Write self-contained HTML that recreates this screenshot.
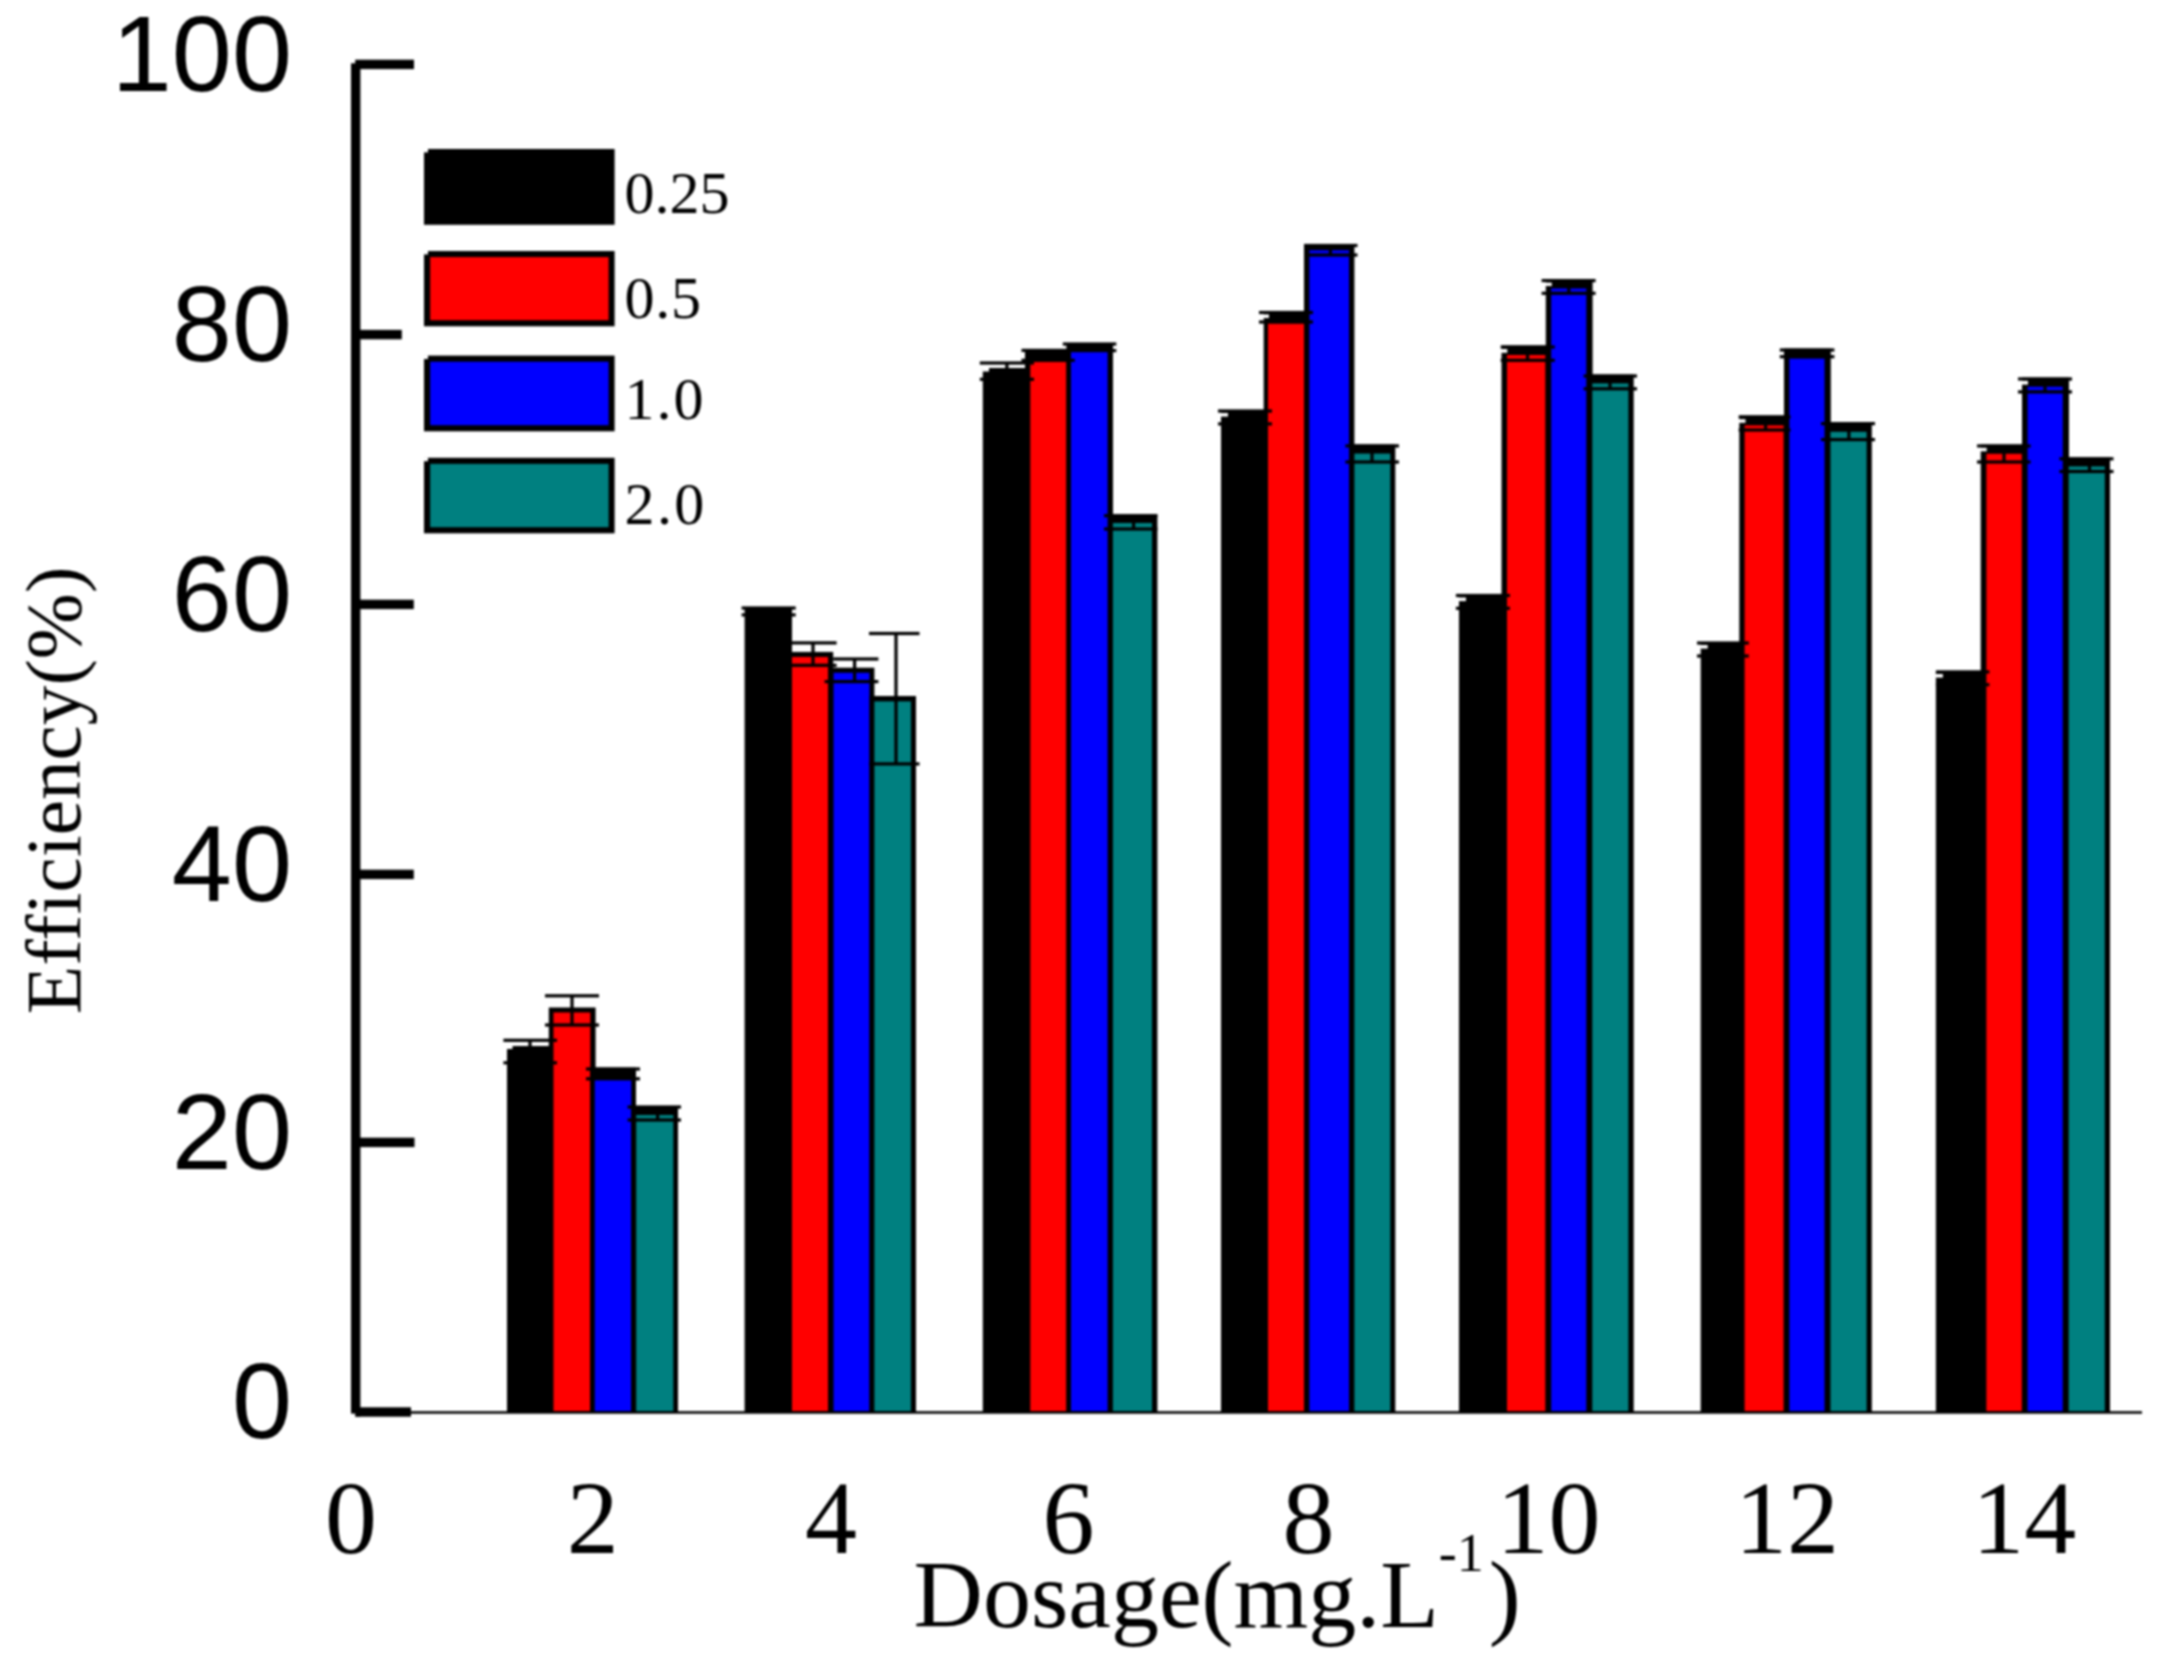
<!DOCTYPE html>
<html lang="en">
<head>
<meta charset="utf-8">
<title>Efficiency vs Dosage</title>
<style>
html,body{margin:0;padding:0;background:#fff;}
body{width:2164px;height:1664px;overflow:hidden;}
svg{display:block;filter:blur(0.85px);}
</style>
</head>
<body>
<svg width="2164" height="1664" viewBox="0 0 2164 1664">
<rect x="0" y="0" width="2164" height="1664" fill="#fff"/>
<g id="bars">
<rect x="507.0" y="1046.0" width="46.5" height="366.2" fill="#000"/>
<rect x="548.8" y="1007.5" width="46.8" height="404.7" fill="#000"/>
<rect x="553.5" y="1012.5" width="36.8" height="398.7" fill="#ff0000"/>
<rect x="590.0" y="1067.5" width="46.0" height="344.7" fill="#000"/>
<rect x="594.8" y="1079.6" width="36.4" height="331.6" fill="#0000ff"/>
<rect x="631.0" y="1106.0" width="47.0" height="306.2" fill="#000"/>
<rect x="636.2" y="1115.0" width="37.1" height="296.2" fill="#008080"/>
<rect x="744.6" y="607.0" width="47.4" height="805.2" fill="#000"/>
<rect x="787.0" y="651.9" width="46.2" height="760.3" fill="#000"/>
<rect x="792.0" y="657.0" width="36.0" height="754.2" fill="#ff0000"/>
<rect x="828.8" y="667.7" width="45.6" height="744.5" fill="#000"/>
<rect x="833.6" y="672.8" width="35.8" height="738.4" fill="#0000ff"/>
<rect x="869.6" y="696.0" width="46.4" height="716.2" fill="#000"/>
<rect x="874.4" y="701.4" width="36.5" height="709.8" fill="#008080"/>
<rect x="982.8" y="368.0" width="46.9" height="1044.2" fill="#000"/>
<rect x="1025.0" y="350.4" width="46.0" height="1061.8" fill="#000"/>
<rect x="1030.3" y="361.5" width="36.1" height="1049.7" fill="#ff0000"/>
<rect x="1066.4" y="343.0" width="46.6" height="1069.2" fill="#000"/>
<rect x="1071.0" y="351.9" width="36.6" height="1059.3" fill="#0000ff"/>
<rect x="1108.0" y="514.5" width="49.4" height="897.7" fill="#000"/>
<rect x="1112.9" y="523.0" width="39.1" height="888.2" fill="#008080"/>
<rect x="1221.0" y="411.0" width="47.0" height="1001.2" fill="#000"/>
<rect x="1263.7" y="311.0" width="45.3" height="1101.2" fill="#000"/>
<rect x="1268.0" y="323.4" width="36.0" height="1087.8" fill="#ff0000"/>
<rect x="1304.0" y="244.0" width="50.4" height="1168.2" fill="#000"/>
<rect x="1309.4" y="250.3" width="39.6" height="1160.9" fill="#0000ff"/>
<rect x="1349.0" y="444.4" width="46.3" height="967.8" fill="#000"/>
<rect x="1354.4" y="453.6" width="35.9" height="957.6" fill="#008080"/>
<rect x="1459.0" y="595.5" width="47.4" height="816.7" fill="#000"/>
<rect x="1501.5" y="345.5" width="49.1" height="1066.7" fill="#000"/>
<rect x="1507.0" y="355.0" width="38.4" height="1056.2" fill="#ff0000"/>
<rect x="1545.8" y="279.0" width="46.8" height="1133.2" fill="#000"/>
<rect x="1551.2" y="288.5" width="35.1" height="1122.7" fill="#0000ff"/>
<rect x="1587.0" y="374.5" width="46.7" height="1037.7" fill="#000"/>
<rect x="1592.3" y="383.4" width="36.1" height="1027.8" fill="#008080"/>
<rect x="1700.7" y="643.0" width="43.6" height="769.2" fill="#000"/>
<rect x="1739.3" y="415.5" width="49.5" height="996.7" fill="#000"/>
<rect x="1744.6" y="425.4" width="39.0" height="985.8" fill="#ff0000"/>
<rect x="1784.0" y="348.5" width="46.8" height="1063.7" fill="#000"/>
<rect x="1789.4" y="358.5" width="35.1" height="1052.7" fill="#0000ff"/>
<rect x="1826.0" y="422.0" width="45.8" height="990.2" fill="#000"/>
<rect x="1830.5" y="431.8" width="36.1" height="979.4" fill="#008080"/>
<rect x="1935.9" y="671.9" width="49.9" height="740.3" fill="#000"/>
<rect x="1980.7" y="444.5" width="46.3" height="967.7" fill="#000"/>
<rect x="1986.4" y="453.8" width="35.4" height="957.5" fill="#ff0000"/>
<rect x="2022.0" y="377.5" width="47.0" height="1034.7" fill="#000"/>
<rect x="2027.6" y="386.7" width="35.1" height="1024.5" fill="#0000ff"/>
<rect x="2063.6" y="457.3" width="46.4" height="954.9" fill="#000"/>
<rect x="2068.7" y="466.4" width="36.1" height="944.8" fill="#008080"/>
</g><g id="err">
<rect x="503.4" y="1038.7" width="53.6" height="3.2" fill="#000"/>
<rect x="503.4" y="1061.2" width="53.6" height="3.2" fill="#000"/>
<rect x="528.4" y="1040.3" width="3.2" height="22.5" fill="#000"/>
<rect x="545.0" y="994.2" width="54.0" height="3.2" fill="#000"/>
<rect x="545.0" y="1023.4" width="54.0" height="3.2" fill="#000"/>
<rect x="570.4" y="995.8" width="3.2" height="29.2" fill="#000"/>
<rect x="586.0" y="1067.4" width="54.0" height="3.2" fill="#000"/>
<rect x="586.0" y="1077.2" width="54.0" height="3.2" fill="#000"/>
<rect x="611.4" y="1069.0" width="3.2" height="9.8" fill="#000"/>
<rect x="627.6" y="1105.4" width="53.4" height="3.2" fill="#000"/>
<rect x="627.6" y="1118.4" width="53.4" height="3.2" fill="#000"/>
<rect x="656.0" y="1107.0" width="3.2" height="13.0" fill="#000"/>
<rect x="741.6" y="606.4" width="54.1" height="3.2" fill="#000"/>
<rect x="741.6" y="613.3" width="54.1" height="3.2" fill="#000"/>
<rect x="766.4" y="608.0" width="3.2" height="6.9" fill="#000"/>
<rect x="789.4" y="641.3" width="47.2" height="3.2" fill="#000"/>
<rect x="789.4" y="663.7" width="47.2" height="3.2" fill="#000"/>
<rect x="811.4" y="642.9" width="3.2" height="22.4" fill="#000"/>
<rect x="833.2" y="657.4" width="45.2" height="3.2" fill="#000"/>
<rect x="824.6" y="680.0" width="53.8" height="3.2" fill="#000"/>
<rect x="853.0" y="659.0" width="3.2" height="22.6" fill="#000"/>
<rect x="869.0" y="631.9" width="50.5" height="3.2" fill="#000"/>
<rect x="869.0" y="762.3" width="50.5" height="3.2" fill="#000"/>
<rect x="894.4" y="633.5" width="3.2" height="130.4" fill="#000"/>
<rect x="979.8" y="361.4" width="54.2" height="3.2" fill="#000"/>
<rect x="979.8" y="377.7" width="54.2" height="3.2" fill="#000"/>
<rect x="1005.3" y="363.0" width="3.2" height="16.3" fill="#000"/>
<rect x="1021.5" y="348.8" width="53.3" height="3.2" fill="#000"/>
<rect x="1021.5" y="358.7" width="53.3" height="3.2" fill="#000"/>
<rect x="1046.4" y="350.4" width="3.2" height="9.9" fill="#000"/>
<rect x="1062.8" y="342.4" width="53.5" height="3.2" fill="#000"/>
<rect x="1062.8" y="349.0" width="53.5" height="3.2" fill="#000"/>
<rect x="1087.9" y="344.0" width="3.2" height="6.6" fill="#000"/>
<rect x="1104.0" y="514.1" width="53.4" height="3.2" fill="#000"/>
<rect x="1104.0" y="527.4" width="53.4" height="3.2" fill="#000"/>
<rect x="1132.0" y="515.7" width="3.2" height="13.3" fill="#000"/>
<rect x="1218.0" y="409.4" width="54.0" height="3.2" fill="#000"/>
<rect x="1218.0" y="422.3" width="54.0" height="3.2" fill="#000"/>
<rect x="1242.9" y="411.0" width="3.2" height="12.9" fill="#000"/>
<rect x="1259.0" y="310.9" width="54.0" height="3.2" fill="#000"/>
<rect x="1259.0" y="320.4" width="54.0" height="3.2" fill="#000"/>
<rect x="1284.4" y="312.5" width="3.2" height="9.5" fill="#000"/>
<rect x="1304.0" y="243.9" width="53.5" height="3.2" fill="#000"/>
<rect x="1304.0" y="253.4" width="53.5" height="3.2" fill="#000"/>
<rect x="1328.8" y="245.5" width="3.2" height="9.5" fill="#000"/>
<rect x="1345.4" y="444.3" width="53.6" height="3.2" fill="#000"/>
<rect x="1345.4" y="460.4" width="53.6" height="3.2" fill="#000"/>
<rect x="1370.4" y="445.9" width="3.2" height="16.1" fill="#000"/>
<rect x="1455.9" y="593.9" width="54.1" height="3.2" fill="#000"/>
<rect x="1455.9" y="606.7" width="54.1" height="3.2" fill="#000"/>
<rect x="1480.9" y="595.5" width="3.2" height="12.8" fill="#000"/>
<rect x="1500.7" y="345.4" width="54.1" height="3.2" fill="#000"/>
<rect x="1500.7" y="358.7" width="54.1" height="3.2" fill="#000"/>
<rect x="1525.9" y="347.0" width="3.2" height="13.3" fill="#000"/>
<rect x="1541.6" y="279.0" width="54.0" height="3.2" fill="#000"/>
<rect x="1541.6" y="291.7" width="54.0" height="3.2" fill="#000"/>
<rect x="1567.2" y="280.6" width="3.2" height="12.7" fill="#000"/>
<rect x="1583.6" y="374.4" width="53.4" height="3.2" fill="#000"/>
<rect x="1583.6" y="387.2" width="53.4" height="3.2" fill="#000"/>
<rect x="1608.4" y="376.0" width="3.2" height="12.8" fill="#000"/>
<rect x="1697.0" y="641.4" width="51.8" height="3.2" fill="#000"/>
<rect x="1697.0" y="654.4" width="51.8" height="3.2" fill="#000"/>
<rect x="1720.9" y="643.0" width="3.2" height="13.0" fill="#000"/>
<rect x="1738.7" y="415.4" width="51.8" height="3.2" fill="#000"/>
<rect x="1738.7" y="428.4" width="51.8" height="3.2" fill="#000"/>
<rect x="1764.0" y="417.0" width="3.2" height="13.0" fill="#000"/>
<rect x="1779.8" y="348.4" width="54.6" height="3.2" fill="#000"/>
<rect x="1779.8" y="355.1" width="54.6" height="3.2" fill="#000"/>
<rect x="1805.4" y="350.0" width="3.2" height="6.7" fill="#000"/>
<rect x="1821.0" y="422.0" width="54.0" height="3.2" fill="#000"/>
<rect x="1821.0" y="438.0" width="54.0" height="3.2" fill="#000"/>
<rect x="1847.3" y="423.6" width="3.2" height="16.0" fill="#000"/>
<rect x="1935.9" y="670.3" width="53.5" height="3.2" fill="#000"/>
<rect x="1935.9" y="683.1" width="53.5" height="3.2" fill="#000"/>
<rect x="1959.4" y="671.9" width="3.2" height="12.8" fill="#000"/>
<rect x="1977.0" y="444.4" width="53.6" height="3.2" fill="#000"/>
<rect x="1977.0" y="460.4" width="53.6" height="3.2" fill="#000"/>
<rect x="2002.4" y="446.0" width="3.2" height="16.0" fill="#000"/>
<rect x="2018.0" y="377.4" width="54.0" height="3.2" fill="#000"/>
<rect x="2018.0" y="390.3" width="54.0" height="3.2" fill="#000"/>
<rect x="2043.4" y="379.0" width="3.2" height="12.9" fill="#000"/>
<rect x="2059.4" y="457.2" width="54.1" height="3.2" fill="#000"/>
<rect x="2059.4" y="469.9" width="54.1" height="3.2" fill="#000"/>
<rect x="2087.9" y="458.8" width="3.2" height="12.7" fill="#000"/>
</g>
<rect x="1220.5" y="413.0" width="7.5" height="3.6" fill="#fff"/>
<rect x="1458.5" y="597.5" width="7.5" height="3.6" fill="#fff"/>
<rect x="1700.2" y="645.0" width="7.5" height="3.6" fill="#fff"/>
<rect x="1935.4" y="674.0" width="7.5" height="3.6" fill="#fff"/>
<rect x="1500.5" y="349.0" width="6.8" height="3.8" fill="#fff"/>
<rect x="1541.4" y="282.6" width="10.4" height="3.4" fill="#fff"/>
<rect x="1738.5" y="419.2" width="7.0" height="3.6" fill="#fff"/>
<rect x="1976.8" y="447.8" width="9.9" height="3.5" fill="#fff"/>
<rect x="2017.8" y="380.8" width="10.2" height="3.8" fill="#fff"/>
<rect x="1258.8" y="314.4" width="10.2" height="3.6" fill="#fff"/>
<rect x="506.5" y="1045.5" width="6.0" height="3.5" fill="#fff"/>
<rect x="982.3" y="367.5" width="6.7" height="4.0" fill="#fff"/>
<g id="axes">
<rect x="351.0" y="60.0" width="9.4" height="1356.6" fill="#000"/>
<rect x="355.0" y="59.7" width="59.0" height="9.4" fill="#000"/>
<rect x="355.0" y="329.9" width="46.8" height="9.4" fill="#000"/>
<rect x="355.0" y="599.7" width="58.8" height="9.4" fill="#000"/>
<rect x="355.0" y="869.7" width="58.8" height="9.4" fill="#000"/>
<rect x="355.0" y="1137.7" width="59.5" height="9.4" fill="#000"/>
<rect x="355.0" y="1407.3" width="56.0" height="9.4" fill="#000"/>
<rect x="355.0" y="1411.2" width="1787.0" height="2.5" fill="#000"/>
<rect x="350.5" y="59.5" width="4.7" height="3.8" fill="#fff"/>
<rect x="350.5" y="1413.6" width="4.7" height="3.4" fill="#fff"/>
</g>
<g id="legend">
<rect x="424.0" y="149.0" width="190.6" height="75.8" fill="#000"/>
<rect x="423.5" y="148.5" width="4.5" height="3.9" fill="#fff"/>
<rect x="424.0" y="251.0" width="190.6" height="75.3" fill="#000"/>
<rect x="430.2" y="257.1" width="178.4" height="63.1" fill="#ff0000"/>
<rect x="423.5" y="250.5" width="4.5" height="3.9" fill="#fff"/>
<rect x="424.0" y="355.6" width="190.6" height="75.7" fill="#000"/>
<rect x="430.2" y="361.7" width="178.4" height="63.5" fill="#0000ff"/>
<rect x="423.5" y="355.1" width="4.5" height="3.9" fill="#fff"/>
<rect x="424.0" y="457.8" width="190.6" height="75.5" fill="#000"/>
<rect x="430.2" y="463.9" width="178.4" height="63.3" fill="#008080"/>
<rect x="423.5" y="457.3" width="4.5" height="3.9" fill="#fff"/>
</g>
<g id="yticks" font-family="'Liberation Sans', Arial, sans-serif" font-size="108" text-anchor="end" fill="#000">
<text x="292" y="90.7">100</text>
<text x="292" y="360.9">80</text>
<text x="292" y="630.7">60</text>
<text x="292" y="900.7">40</text>
<text x="292" y="1168.7">20</text>
<text x="292" y="1438.3">0</text>
</g>
<g id="xticks" font-family="'Liberation Serif', 'Times New Roman', serif" font-size="104" text-anchor="middle" fill="#000">
<text x="351" y="1552.5">0</text>
<text x="592.7" y="1552.5">2</text>
<text x="831" y="1552.5">4</text>
<text x="1068.6" y="1552.5">6</text>
<text x="1308.5" y="1552.5">8</text>
<text x="1548.5" y="1552.5">10</text>
<text x="1787" y="1552.5">12</text>
<text x="2024.2" y="1552.5">14</text>
</g>
<g id="legtext" font-family="'Liberation Serif', 'Times New Roman', serif" font-size="60" fill="#000">
<text x="624.4" y="212.8" letter-spacing="0">0.25</text>
<text x="624.4" y="318" letter-spacing="0.8">0.5</text>
<text x="624.6" y="419" letter-spacing="2">1.0</text>
<text x="624.6" y="523.7" letter-spacing="2.3">2.0</text>
</g>
<text id="xlabel" font-family="'Liberation Serif', 'Times New Roman', serif" font-size="96" x="913.6" y="1627" fill="#000">Dosage(mg.L<tspan font-size="54" dx="0" dy="-56">-1</tspan><tspan dx="5" dy="56">)</tspan></text>
<text id="ylabel" font-family="'Liberation Serif', 'Times New Roman', serif" font-size="79.3" fill="#000" transform="translate(80.3,1014.3) rotate(-90)">Efficiency(%)</text>
</svg>
</body>
</html>
